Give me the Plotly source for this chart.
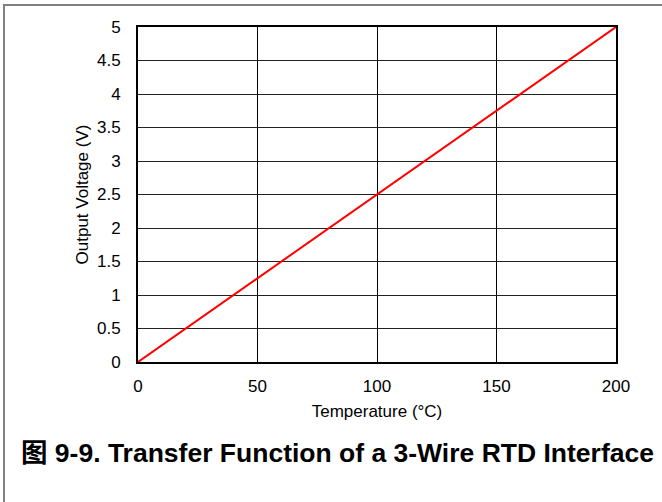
import plotly.graph_objects as go

temperature = [0, 50, 100, 150, 200]
voltage = [0, 1.25, 2.5, 3.75, 5]
x_ticks = [0, 50, 100, 150, 200]
y_ticks = [0, 0.5, 1, 1.5, 2, 2.5, 3, 3.5, 4, 4.5, 5]
y_tick_labels = ["0", "0.5", "1", "1.5", "2", "2.5", "3", "3.5", "4", "4.5", "5"]

W, H = 662, 502
L, R, T, B = 138, 46, 27, 140
pw, ph = W - L - R, H - T - B

def px(x):
    return (x - L) / pw

def py(y):
    return (H - B - y) / ph

FONT = "Arial, 'Liberation Sans', 'Noto Sans CJK SC', sans-serif"

fig = go.Figure()
fig.add_trace(go.Scatter(x=temperature, y=voltage, mode="lines",
                         line=dict(color="#ff0000", width=2), showlegend=False))

fig.update_layout(
    width=W, height=H,
    margin=dict(l=L, r=R, t=T, b=B),
    paper_bgcolor="white", plot_bgcolor="white",
    font=dict(family=FONT, size=17, color="black"),
    xaxis=dict(range=[0, 200], tickvals=x_ticks, showgrid=True, gridcolor="#000000",
               gridwidth=1, showline=True, linecolor="black", linewidth=2, mirror=True,
               zeroline=False, ticks="", ticklabelstandoff=8,
               title=dict(text="Temperature (°C)", standoff=10, font=dict(size=17))),
    yaxis=dict(range=[0, 5], tickvals=y_ticks, ticktext=y_tick_labels, showgrid=True,
               gridcolor="#222222", gridwidth=1, showline=True, linecolor="black",
               linewidth=2, mirror=True, zeroline=False, ticks="", ticklabelstandoff=12,
               title=dict(text="Output Voltage (V)", standoff=4, font=dict(size=17))),
    shapes=[dict(type="rect", xref="paper", yref="paper",
                 x0=px(4), x1=px(668), y0=py(5), y1=py(510),
                 line=dict(color="#808080", width=2), fillcolor="rgba(0,0,0,0)",
                 layer="below")],
    annotations=[dict(text="<b>图 9-9. Transfer Function of a 3-Wire RTD Interface</b>",
                      xref="paper", yref="paper", x=px(19), y=py(453),
                      xanchor="left", yanchor="middle", showarrow=False,
                      font=dict(size=26.5, family=FONT, color="black"))],
)

fig.write_html("out.html", config={"displayModeBar": False},
               post_script="document.body.style.margin='0';document.body.style.overflow='hidden';")
